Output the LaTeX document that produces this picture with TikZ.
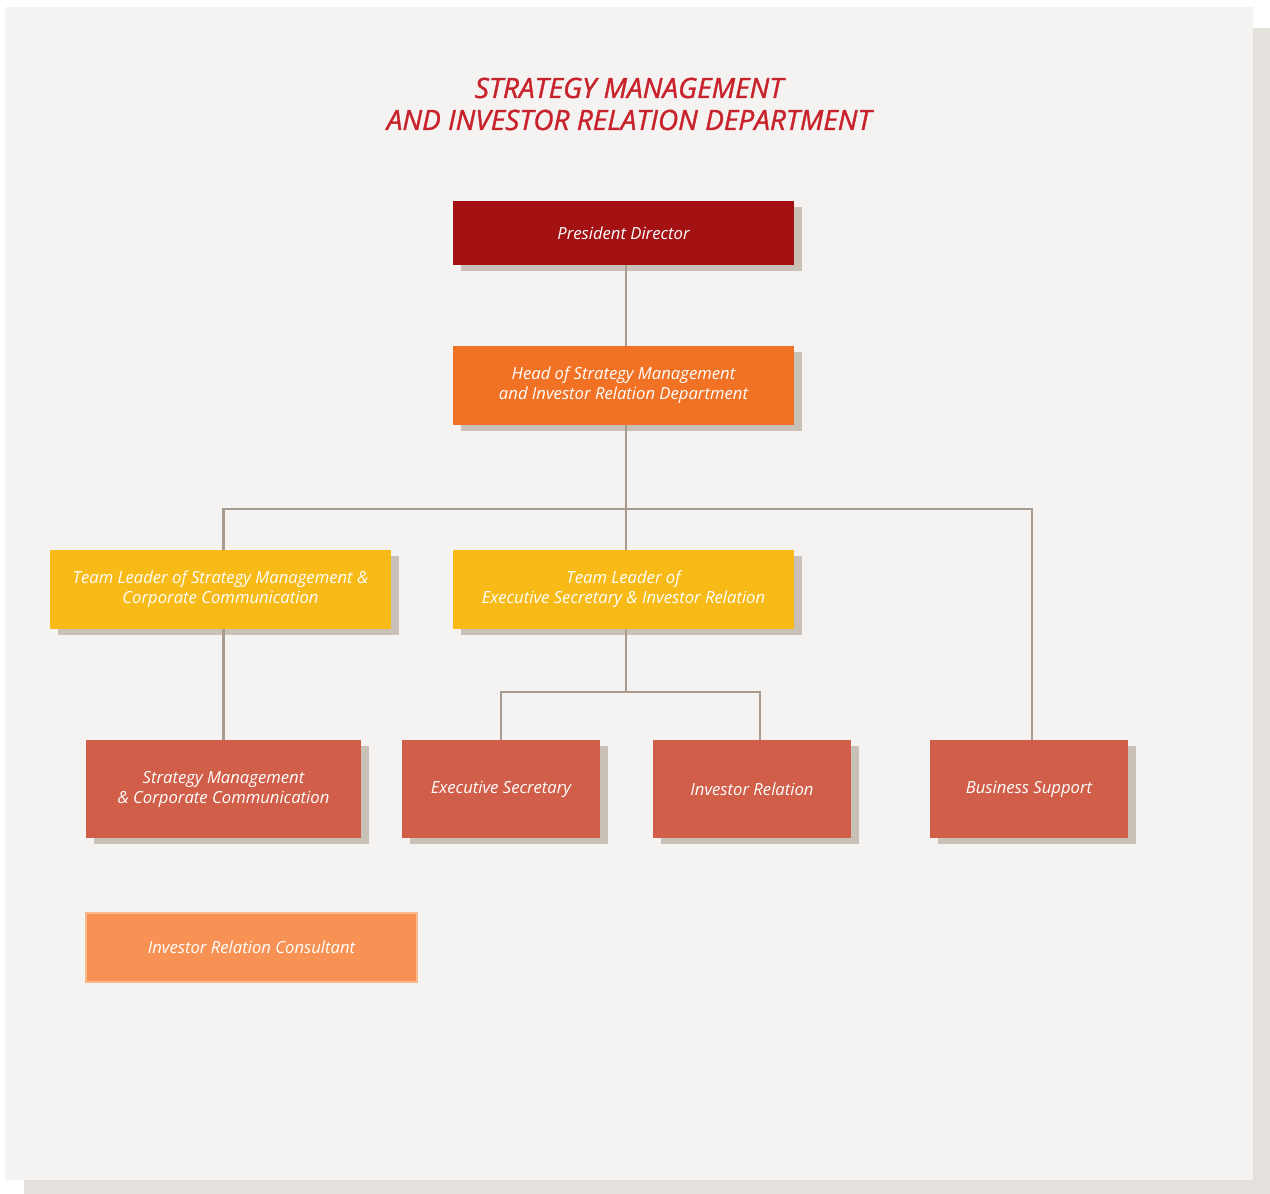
\documentclass[tikz,border=0pt]{standalone}
\usepackage{fontspec}
\setmainfont{Open Sans}
\newfontfamily\titlefont{Open Sans}[FakeBold=1.3]
\usepackage{tikz}
\usetikzlibrary{positioning,shadows}

\definecolor{panel}{HTML}{F5F3F1}
\definecolor{panelshadow}{HTML}{E4E0DC}
\definecolor{boxshadow}{HTML}{C9C1B7}
\definecolor{linkgray}{HTML}{A89B8E}
\definecolor{titlered}{HTML}{C8232C}
\definecolor{presred}{HTML}{A31113}
\definecolor{headorange}{HTML}{F27225}
\definecolor{leaderyellow}{HTML}{F8BA16}
\definecolor{unitred}{HTML}{D05E49}
\definecolor{consultorange}{HTML}{F79254}
\definecolor{consultborder}{HTML}{FBB98E}

\begin{document}
\begin{tikzpicture}[x=0.75pt,y=-0.75pt,
                    orgbox/.style={inner sep=0pt,align=center,text=white,
                      font=\fontsize{12.5}{15}\selectfont\itshape},
                    shadowed/.style={drop shadow={shadow xshift=6pt,shadow yshift=-4.5pt,
                      opacity=1,fill=boxshadow}},
                    wide/.style={orgbox,shadowed,minimum width=255.75pt,minimum height=59.25pt},
                    unit/.style={orgbox,shadowed,fill=unitred,minimum width=148.5pt,minimum height=73.5pt},
                    link/.style={draw=linkgray,line width=1.6pt}]
    % page
    \useasboundingbox (0,0) rectangle (1270,1194);
    \fill[panelshadow] (24,28) rectangle (1270,1194);
    \fill[panel] (5,7) rectangle (1253,1180);

    \node[text=titlered,align=center,font=\titlefont\fontsize{21}{24}\selectfont\itshape] (title) at (629,104)
        {STRATEGY MANAGEMENT\\AND INVESTOR RELATION DEPARTMENT};

    % boxes
    \node[wide,fill=presred,minimum height=48pt] (president) at (623.5,233) {President Director};
    \node[wide,fill=headorange] (head) at (623.5,385.5)
        {Head of Strategy Management\\and Investor Relation Department};
    \node[wide,fill=leaderyellow] (leadsm) at (220.5,589.5)
        {Team Leader of Strategy Management \&\\Corporate Communication};
    \node[wide,fill=leaderyellow] (leades) at (623.5,589.5)
        {Team Leader of\\Executive Secretary \& Investor Relation};
    \node[unit,minimum width=206.25pt] (smcc) at (223.5,789)
        {Strategy Management\\\& Corporate Communication};
    \node[unit] (secretary) at (501,789) {Executive Secretary};
    \node[unit] (investor) at (752,789) {Investor Relation};
    \node[unit] (support) at (1029,789) {Business Support};
    \node[orgbox,fill=consultorange,draw=consultborder,line width=1.5pt,
          minimum width=248.25pt,minimum height=51.75pt] (consultant) at (251.5,947.5)
        {Investor Relation Consultant};

    % connectors
    \coordinate (bus) at (626,509);
    \coordinate (fork) at (626,692);
    \draw[link] (president.south -| bus) -- (head.north -| bus);
    \draw[link] (head.south -| bus) -- (bus);
    \draw[link] (leadsm.north -| smcc) -- (smcc |- bus) -- ([xshift=2pt]support.north |- bus)
        -- ([xshift=2pt]support.north);
    \draw[link] (leades.north -| bus) -- (bus);
    \draw[link] (leadsm.south -| smcc) -- (smcc);
    \draw[link] (leades.south -| fork) -- (fork);
    \draw[link] (secretary.north) -- (secretary |- fork)
        -- ([xshift=6pt]investor.north |- fork) -- ([xshift=6pt]investor.north);
\end{tikzpicture}
\end{document}
